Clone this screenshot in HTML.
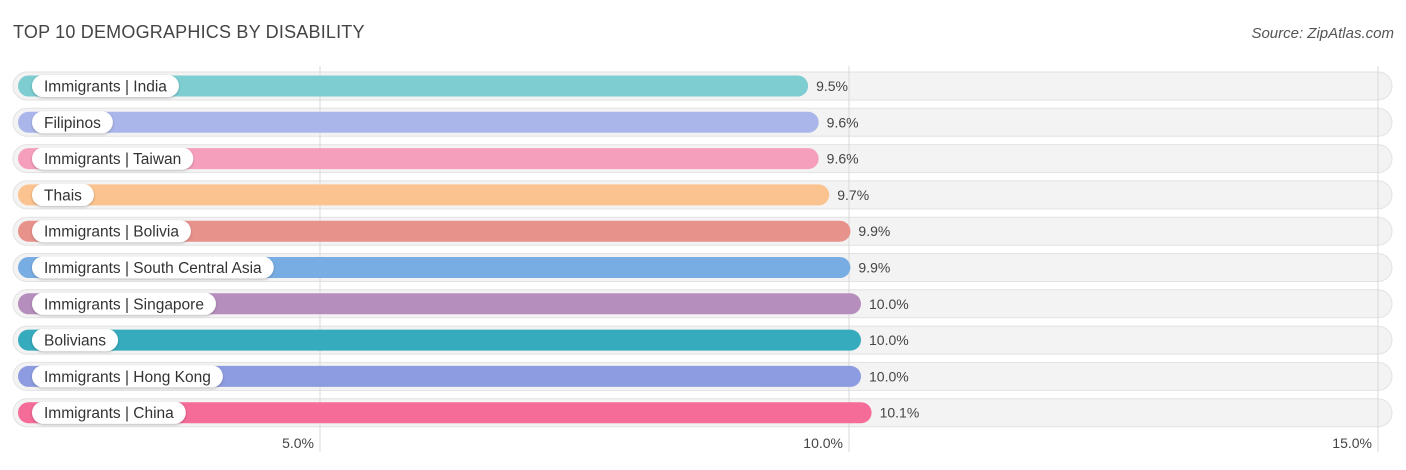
<!DOCTYPE html>
<html><head><meta charset="utf-8"><style>
body{margin:0;width:1406px;height:470px;background:#fff;font-family:"Liberation Sans",sans-serif;overflow:hidden;position:relative}
#title{position:absolute;left:13px;top:22px;font-size:18px;color:#444;letter-spacing:0.2px}
#source{position:absolute;right:12px;top:25px;font-size:15px;color:#555;font-style:italic}
</style></head><body>
<div id="title">TOP 10 DEMOGRAPHICS BY DISABILITY</div>
<div id="source">Source: ZipAtlas.com</div>
<svg id="chart" width="1406" height="470" style="position:absolute;left:0;top:0"></svg>
<script>
const categories=["Immigrants | India","Filipinos","Immigrants | Taiwan","Thais","Immigrants | Bolivia","Immigrants | South Central Asia","Immigrants | Singapore","Bolivians","Immigrants | Hong Kong","Immigrants | China"];
const values=[9.5,9.6,9.6,9.7,9.9,9.9,10.0,10.0,10.0,10.1];
const valueLabels=["9.5%","9.6%","9.6%","9.7%","9.9%","9.9%","10.0%","10.0%","10.0%","10.1%"];
const colors=["#7dcdd1","#aab6ea","#f59fbd","#fbc38f","#e8928c","#78ade3","#b68ebd","#35abbd","#8d9ce0","#f46c97"];
const ticks=[5,10,15];
const tickLabels=["5.0%","10.0%","15.0%"];
const NS="http://www.w3.org/2000/svg";
const svg=document.getElementById('chart');
function x(v){return 320+(v-5)*105.8;}
function y(i){return 86+i*36.3;}
function mk(t,a,p){const e=document.createElementNS(NS,t);for(const k in a)e.setAttribute(k,a[k]);(p||svg).appendChild(e);return e;}
const defs=mk('defs',{});
const f=mk('filter',{id:'sh',x:'-10%',y:'-30%',width:'120%',height:'160%'},defs);
mk('feDropShadow',{dx:'0',dy:'1',stdDeviation:'1.2','flood-color':'#000','flood-opacity':'0.25'},f);
categories.forEach((c,i)=>{
  const cy=y(i);
  const bg=mk('rect',{x:13,y:cy-14,width:1379,height:28,rx:14,fill:'#f3f3f3',stroke:'#e2e2e2','stroke-width':1});
  
  
});
ticks.forEach((t,i)=>{
  const l=mk('line',{x1:x(t),x2:x(t),y1:66,y2:452,stroke:'#d8d8d8','stroke-width':1});
  
  
  const tx=mk('text',{x:x(t)-6,y:448,'text-anchor':'end','font-size':14,fill:'#444'});
  tx.textContent=tickLabels[i];
  
  
});
categories.forEach((c,i)=>{
  const cy=y(i);
  const end=x(values[i])+12;
  const b=mk('rect',{x:18,y:cy-10.5,width:end-18,height:21,rx:10.5,fill:colors[i]});
  
  
  const t=mk('text',{x:44,y:cy+5.5,'font-size':15.5,fill:'#333'});
  t.textContent=c;
  
  
  const w=t.getComputedTextLength();
  const p=mk('rect',{x:32,y:cy-11,width:w+24,height:22,rx:11,fill:'#fff',filter:'url(#sh)'});
  
  
  svg.insertBefore(p,t);
  const v=mk('text',{x:end+8,y:cy+5,'font-size':14,fill:'#444'});
  v.textContent=valueLabels[i];
  
  
});
</script>
</body></html>
